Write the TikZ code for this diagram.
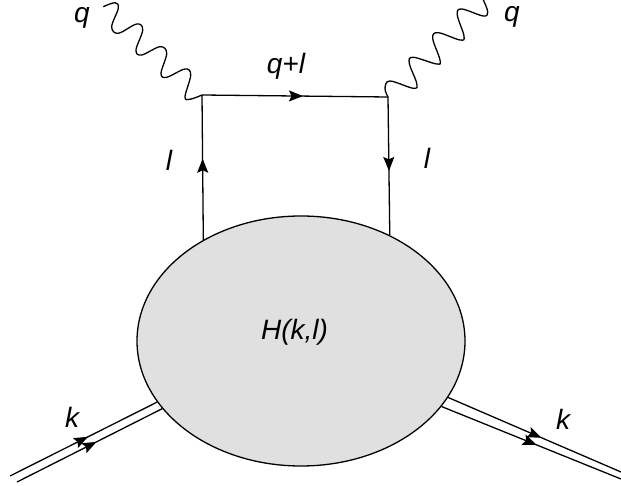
\documentclass[tikz,border=0pt]{standalone}
\usepackage{xcolor}
\usepackage{fontspec}
\setmainfont{Liberation Sans}
\usetikzlibrary{arrows.meta,shapes.geometric,decorations.markings}
\definecolor{BlobFill}{HTML}{E0E0E0}
\tikzset{
  fermion/.style={line width=1.3pt,postaction={decorate},decoration={markings,
      mark=at position #1 with {\arrow{Stealth[length=14pt,width=11pt,inset=2.5pt]}}}},
  fermion/.default=0.5,
  photon/.style={line width=1.3pt,smooth,tension=0.6},
  label/.style={font=\fontsize{28}{28}\selectfont\itshape,inner sep=0pt}
}
\begin{document}
\begin{tikzpicture}[x=1pt,y=-1pt]
    \useasboundingbox (0,0) rectangle (621,486);
    % blob
    \node[ellipse,draw,fill=BlobFill,line width=1.3pt,minimum width=328pt,minimum height=250pt,
          inner sep=0pt] (blob) at (301,341) {};
    \node[label] (blobtext) at (294.5,332) {H(k,l)};
    % quark box
    \coordinate (vtxL) at (202,95);
    \coordinate (vtxR) at (388,97);
    \draw[fermion=0.56] (blob.134) -- (vtxL);
    \draw[fermion=0.543] (vtxL) -- (vtxR);
    \draw[fermion=0.535] (vtxR) -- (blob.50);
    % photons
    \coordinate (endL) at (103.3,6.7);
    \coordinate (endR) at (483.3,0);
    \draw[photon] plot coordinates {(vtxL) (190,99.3) (185,96.7) (190.7,75) (185,69) (166.7,77.3)
      (161,73.3) (166.7,53.3) (160,46.7) (141.7,55) (136,50) (142.7,30) (136.7,24) (118.3,33.3)
      (111.7,26.7) (118.3,8.3) (115,2.7) (endL)};
    \draw[photon] plot coordinates {(vtxR) (385,88.3) (390,81) (413.3,88.3) (416.7,83.3) (409.3,63.3)
      (413.3,57.3) (436.7,64) (440,60) (432.7,38.3) (438.3,32.7) (460,40) (464,36) (457.3,15)
      (461.7,9) (483.3,16) (487.7,11.7) (endR)};
    % incoming and outgoing hadron
    \coordinate (inA) at (10,476);
    \coordinate (inB) at (17,482);
    \coordinate (outA) at (621,472);
    \coordinate (outB) at (621,479);
    \draw[fermion=0.53] (inA) -- (blob.203.3);
    \draw[fermion=0.547] (inB) -- (blob.206.2);
    \draw[fermion=0.54] (blob.-21) -- (outA);
    \draw[fermion=0.53] (blob.-25) -- (outB);
    % labels
    \node[label] (qL) at (82,17.5) {q};
    \node[label] (qR) at (512,17) {q};
    \node[label] (qpl) at (286,66) {q+l};
    \node[label] (lL) at (169,160) {l};
    \node[label] (lR) at (427,158) {l};
    \node[label] (kL) at (72,417.5) {k};
    \node[label] (kR) at (563,419) {k};
\end{tikzpicture}
\end{document}
